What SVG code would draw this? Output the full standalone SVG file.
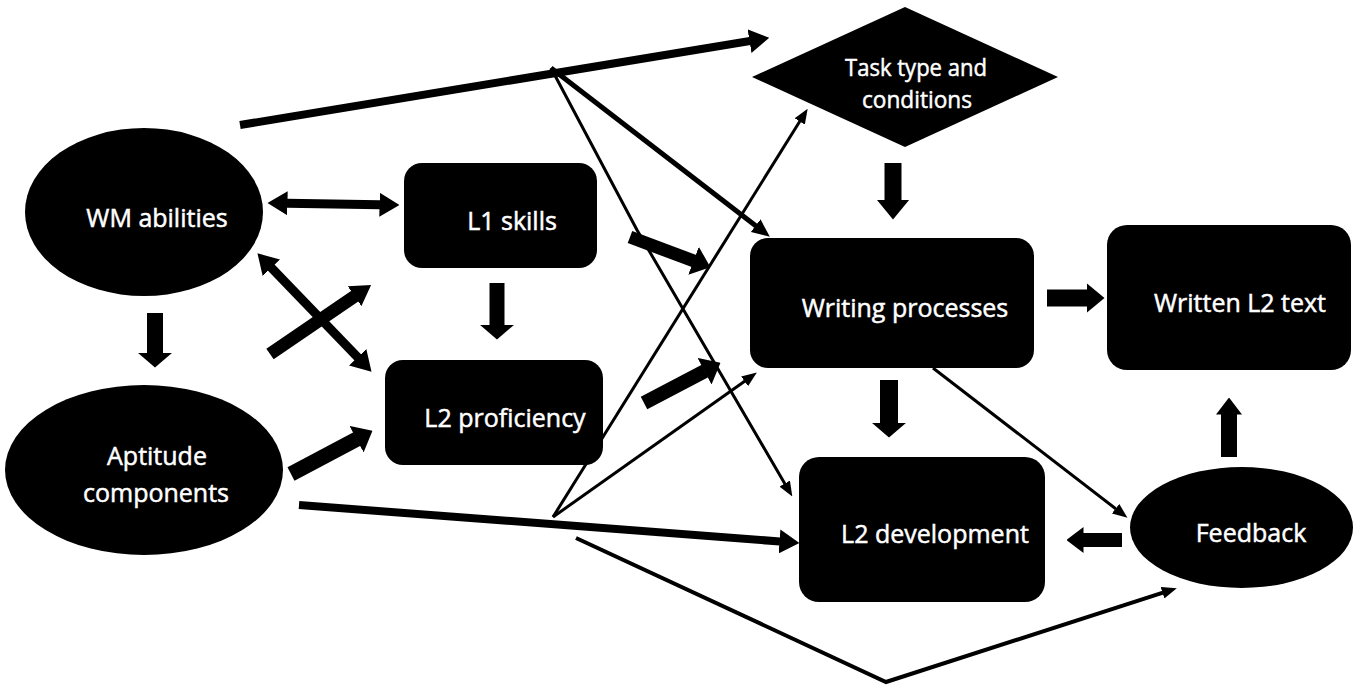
<svg xmlns="http://www.w3.org/2000/svg" width="1358" height="693" viewBox="0 0 1358 693">
<style>
.node{fill:#000}
.lbl{fill:#fff;stroke:#fff;stroke-width:0.5;font-family:"Open Sans","Liberation Sans",sans-serif;font-size:25px;text-anchor:middle}
.lbl-s{font-size:24px}
.c{stroke:#000;fill:none;stroke-linecap:butt;stroke-linejoin:miter}
.thin{stroke-width:3}
</style>
<defs>
<marker id="mA" markerUnits="userSpaceOnUse" markerWidth="15" markerHeight="35" viewBox="0 0 15 35" refX="0.5" refY="17.5" orient="auto"><path d="M0,0L15,17.5L0,35z"/></marker>
<marker id="mB" markerUnits="userSpaceOnUse" markerWidth="20" markerHeight="33" viewBox="0 0 20 33" refX="0.5" refY="16.5" orient="auto"><path d="M0,0L20,16.5L0,33z"/></marker>
<marker id="mC" markerUnits="userSpaceOnUse" markerWidth="18" markerHeight="30" viewBox="0 0 18 30" refX="0.5" refY="15" orient="auto"><path d="M0,0L18,15L0,30z"/></marker>
<marker id="mD" markerUnits="userSpaceOnUse" markerWidth="17" markerHeight="26" viewBox="0 0 17 26" refX="0.5" refY="13" orient="auto"><path d="M0,0L17,13L0,26z"/></marker>
<marker id="mE" markerUnits="userSpaceOnUse" markerWidth="20" markerHeight="24" viewBox="0 0 20 24" refX="0.5" refY="12" orient="auto-start-reverse"><path d="M0,0L20,12L0,24z"/></marker>
<marker id="mF" markerUnits="userSpaceOnUse" markerWidth="18" markerHeight="16" viewBox="0 0 18 16" refX="0.5" refY="8" orient="auto"><path d="M0,0L18,8L0,16z"/></marker>
<marker id="mG" markerUnits="userSpaceOnUse" markerWidth="15" markerHeight="12" viewBox="0 0 15 12" refX="0.5" refY="6" orient="auto"><path d="M0,0L15,6L0,12z"/></marker>
</defs>
<rect width="1358" height="693" fill="#fff"/>

<g id="connectors">
<!-- top long line to task -->
<line class="c" x1="240" y1="125" x2="750" y2="41" stroke-width="8" marker-end="url(#mE)"/>
<!-- junction to writing processes -->
<line class="c" x1="551" y1="68" x2="756" y2="226" stroke-width="5" marker-end="url(#mF)"/>
<!-- junction to L2 development (thin) -->
<polyline class="c thin" points="551,68 637,230 785,484" marker-end="url(#mG)"/>
<!-- thick arrow near top to writing processes -->
<line class="c" x1="630" y1="237" x2="694" y2="261" stroke-width="13" marker-end="url(#mC)"/>
<!-- lower junction to task -->
<line class="c thin" x1="553" y1="517" x2="800" y2="121" marker-end="url(#mG)"/>
<!-- lower junction to writing processes -->
<line class="c thin" x1="553" y1="517" x2="745" y2="381" marker-end="url(#mG)"/>
<!-- L2 proficiency to writing processes -->
<line class="c" x1="644" y1="403" x2="705" y2="371" stroke-width="14" marker-end="url(#mC)"/>
<!-- aptitude to L2 development -->
<line class="c" x1="299" y1="505" x2="780" y2="541.5" stroke-width="8" marker-end="url(#mE)"/>
<!-- bottom V to feedback -->
<polyline class="c" points="576,538 886,682 1163,592.6" stroke-width="4" marker-end="url(#mG)"/>
<!-- WM <-> L1 -->
<line class="c" x1="287" y1="203.3" x2="380" y2="204.7" stroke-width="9" marker-start="url(#mE)" marker-end="url(#mE)"/>
<!-- WM <-> L2 proficiency -->
<line class="c" x1="271" y1="267.4" x2="358" y2="357.6" stroke-width="9" marker-start="url(#mE)" marker-end="url(#mE)"/>
<!-- to L1 skills -->
<line class="c" x1="270" y1="354" x2="355" y2="296" stroke-width="13" marker-end="url(#mE)"/>
<!-- aptitude to L2 proficiency -->
<line class="c" x1="291" y1="474" x2="357" y2="439" stroke-width="15" marker-end="url(#mC)"/>
<!-- WM to aptitude -->
<line class="c" x1="155" y1="313" x2="155" y2="353" stroke-width="16" marker-end="url(#mA)"/>
<!-- L1 to L2 -->
<line class="c" x1="497" y1="283" x2="497" y2="325" stroke-width="15" marker-end="url(#mA)"/>
<!-- task to writing processes -->
<line class="c" x1="893" y1="163" x2="893" y2="200" stroke-width="17" marker-end="url(#mB)"/>
<!-- writing processes to written text -->
<line class="c" x1="1047" y1="298" x2="1087" y2="298" stroke-width="17" marker-end="url(#mC)"/>
<!-- writing processes to L2 development -->
<line class="c" x1="889" y1="380" x2="889" y2="423" stroke-width="18" marker-end="url(#mA)"/>
<!-- writing processes to feedback (thin) -->
<line class="c thin" x1="933" y1="368" x2="1116" y2="509" marker-end="url(#mG)"/>
<!-- feedback to L2 development -->
<line class="c" x1="1122" y1="540" x2="1083" y2="540" stroke-width="14" marker-end="url(#mD)"/>
<!-- feedback to written text -->
<line class="c" x1="1229" y1="457" x2="1229" y2="414" stroke-width="16" marker-end="url(#mD)"/>
</g>

<g id="wm-abilities">
<ellipse class="node" cx="144" cy="212" rx="119" ry="84"/>
<text class="lbl" x="157" y="227">WM abilities</text>
</g>
<g id="aptitude-components">
<ellipse class="node" cx="144" cy="470" rx="139" ry="85"/>
<text class="lbl" x="157" y="465">Aptitude</text>
<text class="lbl" x="156" y="502">components</text>
</g>
<g id="l1-skills">
<rect class="node" x="404" y="163" width="193" height="105" rx="18"/>
<text class="lbl" x="512" y="230">L1 skills</text>
</g>
<g id="l2-proficiency">
<rect class="node" x="385" y="360" width="218" height="105" rx="18"/>
<text class="lbl" x="505" y="427">L2 proficiency</text>
</g>
<g id="task-type">
<polygon class="node" points="752,77 905,7 1058,77 905,147"/>
<text class="lbl lbl-s" x="916" y="76" textLength="142" lengthAdjust="spacingAndGlyphs">Task type and</text>
<text class="lbl lbl-s" x="917" y="108" textLength="110" lengthAdjust="spacingAndGlyphs">conditions</text>
</g>
<g id="writing-processes">
<rect class="node" x="750" y="238" width="284" height="130" rx="18"/>
<text class="lbl" x="905" y="317">Writing processes</text>
</g>
<g id="written-l2-text">
<rect class="node" x="1107" y="225" width="244" height="145" rx="20"/>
<text class="lbl" x="1240" y="312">Written L2 text</text>
</g>
<g id="l2-development">
<rect class="node" x="799" y="457" width="246" height="145" rx="20"/>
<text class="lbl" x="935" y="543">L2 development</text>
</g>
<g id="feedback">
<ellipse class="node" cx="1241.5" cy="527.5" rx="111.5" ry="60.5"/>
<text class="lbl" x="1251" y="542">Feedback</text>
</g>
</svg>
